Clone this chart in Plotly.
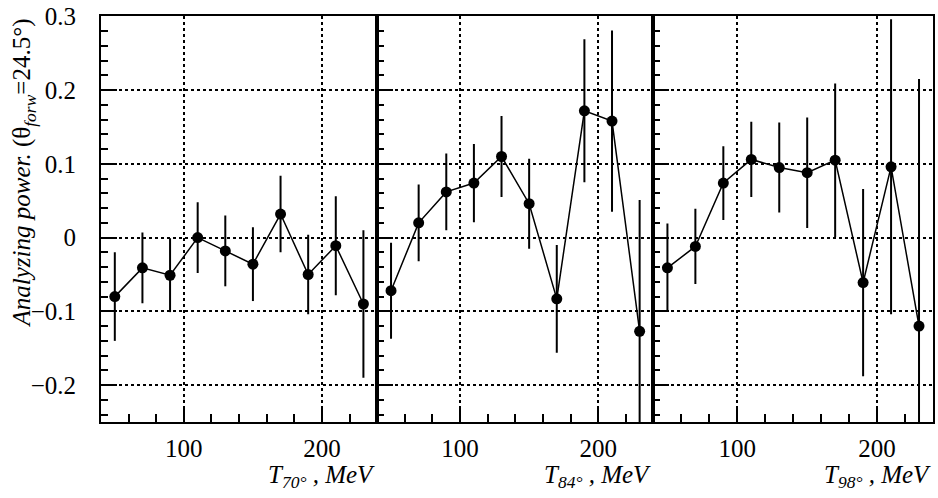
import plotly.graph_objects as go

# Kinetic energy bin centres (MeV)
energy = [50, 70, 90, 110, 130, 150, 170, 190, 210, 230]

# Analyzing power and errors at three proton angles
ap70 = [-0.080, -0.041, -0.051, 0.000, -0.018, -0.036, 0.032, -0.050, -0.011, -0.090]
err70 = [0.060, 0.048, 0.050, 0.048, 0.048, 0.050, 0.052, 0.054, 0.067, 0.100]

ap84 = [-0.072, 0.020, 0.062, 0.074, 0.110, 0.046, -0.083, 0.172, 0.158, -0.127]
err84 = [0.065, 0.052, 0.052, 0.053, 0.055, 0.061, 0.073, 0.097, 0.123, 0.178]

ap98 = [-0.041, -0.012, 0.074, 0.106, 0.095, 0.088, 0.105, -0.061, 0.096, -0.120]
err98 = [0.060, 0.051, 0.050, 0.051, 0.061, 0.075, 0.104, 0.127, 0.200, 0.335]

panels = [
    (ap70, err70, "T<sub>70°</sub> , MeV"),
    (ap84, err84, "T<sub>84°</sub> , MeV"),
    (ap98, err98, "T<sub>98°</sub> , MeV"),
]

FONT = "Liberation Serif, Times New Roman, serif"

fig = go.Figure()
domains = [[0.0, 0.332], [0.332, 0.664], [0.664, 1.0]]

for i, (vals, errs, title) in enumerate(panels):
    n = "" if i == 0 else str(i + 1)
    fig.add_trace(go.Scatter(
        x=energy, y=vals,
        xaxis="x" + n, yaxis="y" + n,
        mode="lines+markers",
        line=dict(color="black", width=1.5),
        marker=dict(color="black", size=11),
        error_y=dict(type="data", array=errs, visible=True,
                     color="black", thickness=2, width=0),
        showlegend=False,
    ))
    common_x = dict(
        domain=domains[i], range=[40, 240], anchor="y" + n,
        tickmode="linear", tick0=0, dtick=100,
        ticks="inside", ticklen=16, tickwidth=1.5, tickcolor="black",
        minor=dict(tick0=0, dtick=20, ticks="inside", ticklen=8,
                   tickwidth=1.5, tickcolor="black", showgrid=False),
        showgrid=True, griddash="dot", gridcolor="black", gridwidth=1.5,
        showline=True, linewidth=2, linecolor="black", mirror=True,
        zeroline=False,
        ticklabelstandoff=3,
        tickfont=dict(family=FONT, size=25, color="black"),
    )
    common_y = dict(
        range=[-0.25, 0.3005], anchor="x" + n,
        tickmode="linear", tick0=0, dtick=0.1,
        ticks="inside", ticklen=16, tickwidth=1.5, tickcolor="black",
        minor=dict(tick0=0, dtick=0.02, ticks="inside", ticklen=7,
                   tickwidth=1.5, tickcolor="black", showgrid=False),
        showgrid=True, griddash="dot", gridcolor="black", gridwidth=1.5,
        showline=True, linewidth=2, linecolor="black", mirror=True,
        zeroline=False,
        showticklabels=(i == 0),
        ticklabelstandoff=18,
        tickfont=dict(family=FONT, size=25, color="black"),
    )
    if i > 0:
        common_y["matches"] = "y"
    fig.update_layout(**{"xaxis" + n: common_x, "yaxis" + n: common_y})
    fig.add_annotation(
        text="<i>" + title + "</i>",
        xref=("x" + n + " domain"), yref="paper",
        x=1, y=0, xanchor="right", yanchor="top", yshift=-37,
        showarrow=False,
        font=dict(family=FONT, size=25, color="black"),
    )

fig.add_annotation(
    text="<i>Analyzing power.</i> (θ<sub><i>forw</i></sub>=24.5°)",
    xref="paper", yref="paper", x=0, y=0.612, xshift=-77,
    xanchor="center", yanchor="middle", textangle=-90, showarrow=False,
    font=dict(family=FONT, size=25, color="black"),
)

fig.update_layout(
    width=938, height=498,
    margin=dict(l=101, r=3, t=15, b=76),
    paper_bgcolor="white", plot_bgcolor="white",
    font=dict(family=FONT, color="black"),
)

fig.write_html("out.html")
